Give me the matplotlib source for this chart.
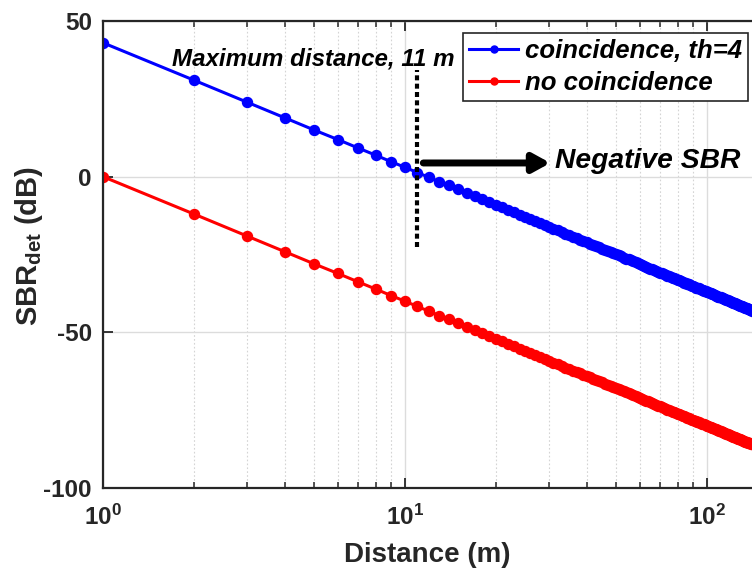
import matplotlib
matplotlib.use('Agg')
import matplotlib.pyplot as plt

plt.rcParams['font.family'] = ['Liberation Sans', 'DejaVu Sans']
plt.rcParams['font.weight'] = 'bold'
plt.rcParams['axes.unicode_minus'] = False
plt.rcParams['mathtext.fontset'] = 'custom'
plt.rcParams['mathtext.rm'] = 'Liberation Sans:bold'
plt.rcParams['mathtext.it'] = 'Liberation Sans:bold:italic'
plt.rcParams['mathtext.bf'] = 'Liberation Sans:bold'
plt.rcParams['mathtext.default'] = 'regular'

# distance in metres, one point per metre
distance = [
    1, 2, 3, 4, 5, 6, 7, 8, 9, 10,
    11, 12, 13, 14, 15, 16, 17, 18, 19, 20,
    21, 22, 23, 24, 25, 26, 27, 28, 29, 30,
    31, 32, 33, 34, 35, 36, 37, 38, 39, 40,
    41, 42, 43, 44, 45, 46, 47, 48, 49, 50,
    51, 52, 53, 54, 55, 56, 57, 58, 59, 60,
    61, 62, 63, 64, 65, 66, 67, 68, 69, 70,
    71, 72, 73, 74, 75, 76, 77, 78, 79, 80,
    81, 82, 83, 84, 85, 86, 87, 88, 89, 90,
    91, 92, 93, 94, 95, 96, 97, 98, 99, 100,
    101, 102, 103, 104, 105, 106, 107, 108, 109, 110,
    111, 112, 113, 114, 115, 116, 117, 118, 119, 120,
    121, 122, 123, 124, 125, 126, 127, 128, 129, 130,
    131, 132, 133, 134, 135, 136, 137, 138, 139, 140,
    141,
]

# SBR (dB) with coincidence detection, th=4
sbr_coinc = [
    43.0, 31.0, 23.9, 18.9, 15.0, 11.9, 9.2, 6.9, 4.8, 3.0,
    1.3, -0.2, -1.6, -2.8, -4.0, -5.2, -6.2, -7.2, -8.2, -9.0,
    -9.9, -10.7, -11.5, -12.2, -12.9, -13.6, -14.3, -14.9, -15.5, -16.1,
    -16.7, -17.2, -17.7, -18.3, -18.8, -19.3, -19.7, -20.2, -20.6, -21.1,
    -21.5, -21.9, -22.3, -22.7, -23.1, -23.5, -23.9, -24.2, -24.6, -25.0,
    -25.3, -25.6, -26.0, -26.3, -26.6, -26.9, -27.2, -27.5, -27.8, -28.1,
    -28.4, -28.7, -29.0, -29.2, -29.5, -29.8, -30.0, -30.3, -30.6, -30.8,
    -31.1, -31.3, -31.5, -31.8, -32.0, -32.2, -32.5, -32.7, -32.9, -33.1,
    -33.3, -33.6, -33.8, -34.0, -34.2, -34.4, -34.6, -34.8, -35.0, -35.2,
    -35.4, -35.6, -35.7, -35.9, -36.1, -36.3, -36.5, -36.6, -36.8, -37.0,
    -37.2, -37.3, -37.5, -37.7, -37.8, -38.0, -38.2, -38.3, -38.5, -38.7,
    -38.8, -39.0, -39.1, -39.3, -39.4, -39.6, -39.7, -39.9, -40.0, -40.2,
    -40.3, -40.5, -40.6, -40.7, -40.9, -41.0, -41.2, -41.3, -41.4, -41.6,
    -41.7, -41.8, -42.0, -42.1, -42.2, -42.3, -42.5, -42.6, -42.7, -42.8,
    -43.0,
]

# SBR (dB) without coincidence detection
sbr_no_coinc = [
    0.0, -12.0, -19.1, -24.1, -28.0, -31.1, -33.8, -36.1, -38.2, -40.0,
    -41.7, -43.2, -44.6, -45.8, -47.0, -48.2, -49.2, -50.2, -51.2, -52.0,
    -52.9, -53.7, -54.5, -55.2, -55.9, -56.6, -57.3, -57.9, -58.5, -59.1,
    -59.7, -60.2, -60.7, -61.3, -61.8, -62.3, -62.7, -63.2, -63.6, -64.1,
    -64.5, -64.9, -65.3, -65.7, -66.1, -66.5, -66.9, -67.2, -67.6, -68.0,
    -68.3, -68.6, -69.0, -69.3, -69.6, -69.9, -70.2, -70.5, -70.8, -71.1,
    -71.4, -71.7, -72.0, -72.2, -72.5, -72.8, -73.0, -73.3, -73.6, -73.8,
    -74.1, -74.3, -74.5, -74.8, -75.0, -75.2, -75.5, -75.7, -75.9, -76.1,
    -76.3, -76.6, -76.8, -77.0, -77.2, -77.4, -77.6, -77.8, -78.0, -78.2,
    -78.4, -78.6, -78.7, -78.9, -79.1, -79.3, -79.5, -79.6, -79.8, -80.0,
    -80.2, -80.3, -80.5, -80.7, -80.8, -81.0, -81.2, -81.3, -81.5, -81.7,
    -81.8, -82.0, -82.1, -82.3, -82.4, -82.6, -82.7, -82.9, -83.0, -83.2,
    -83.3, -83.5, -83.6, -83.7, -83.9, -84.0, -84.2, -84.3, -84.4, -84.6,
    -84.7, -84.8, -85.0, -85.1, -85.2, -85.3, -85.5, -85.6, -85.7, -85.8,
    -86.0,
]

series_labels = ['coincidence, th=4', 'no coincidence']
x_ticks = [1, 10, 100]
x_tick_labels = ['$10^{0}$', '$10^{1}$', '$10^{2}$']
y_ticks = [-100, -50, 0, 50]

max_dist = 11
max_dist_span = [-22.5, 34.3]
arrow_start = 11.5
arrow_end = 30.3
arrow_y = 4.4

fig = plt.figure(figsize=(7.52, 5.72), dpi=100)
ax = fig.add_axes([103 / 752, 84 / 572, 649 / 752, 467 / 572])

ax.plot(distance, sbr_coinc, '-o', color='blue', lw=2.2, ms=7.2, label=series_labels[0])
ax.plot(distance, sbr_no_coinc, '-o', color='red', lw=2.2, ms=7.2, label=series_labels[1])

ax.set_xscale('log')
ax.set_xlim(1, 141)
ax.set_ylim(-100, 50)
ax.set_xticks(x_ticks)
ax.set_xticklabels(x_tick_labels)
ax.set_yticks(y_ticks)

ax.grid(True, which='major', color='#dcdcdc', lw=1)
ax.grid(True, which='minor', axis='x', color='#d4d4d4', lw=0.8, ls=(0, (1.5, 2)))
ax.set_axisbelow(True)

ax.tick_params(which='both', direction='in', top=True, right=False,
               colors='#262626', labelsize=17.5)
ax.tick_params(which='major', length=7, width=1.3)
ax.tick_params(which='minor', length=4, width=1.1)
ax.tick_params(axis='x', pad=12)
ax.tick_params(axis='y', pad=8)
for lab in ax.get_xticklabels() + ax.get_yticklabels():
    lab.set_fontweight('bold')

for side in ['left', 'bottom', 'top']:
    ax.spines[side].set_linewidth(1.6)
    ax.spines[side].set_color('#262626')
ax.spines['right'].set_visible(False)

ax.set_xlabel('Distance (m)', fontsize=20, fontweight='bold', color='#262626', labelpad=9)
ax.set_ylabel('SBR$_{det}$ (dB)', fontsize=21, fontweight='bold', color='#262626')
ax.yaxis.set_label_coords(-0.09, 0.519)

# 11 m limit marker
ax.plot([max_dist, max_dist], max_dist_span, color='black', lw=3, ls=(0, (1.2, 0.8)))
ax.text(1.693, 37.8, 'Maximum distance, 11 m', fontsize=17.4, fontweight='bold',
        fontstyle='italic', ha='left', va='center')
ax.annotate('', xy=(arrow_end, arrow_y), xytext=(arrow_start, arrow_y),
            arrowprops=dict(arrowstyle='-|>,head_length=1.0,head_width=0.55',
                            lw=5, color='black', shrinkA=0, shrinkB=0,
                            capstyle='round'))
ax.text(31.5, 5.0, 'Negative SBR', fontsize=20.3, fontweight='bold',
        fontstyle='italic', ha='left', va='center')

leg = ax.legend(loc='upper right', bbox_to_anchor=(0.994, 0.975), borderaxespad=0,
                fancybox=False, edgecolor='#262626', framealpha=1,
                prop={'size': 18.5, 'weight': 'bold', 'style': 'italic'},
                handlelength=1.9, handletextpad=0.25, labelspacing=0.3,
                borderpad=0.25, markerscale=0.7)
leg.get_frame().set_linewidth(1.2)

fig.savefig('out.png', dpi=100)
